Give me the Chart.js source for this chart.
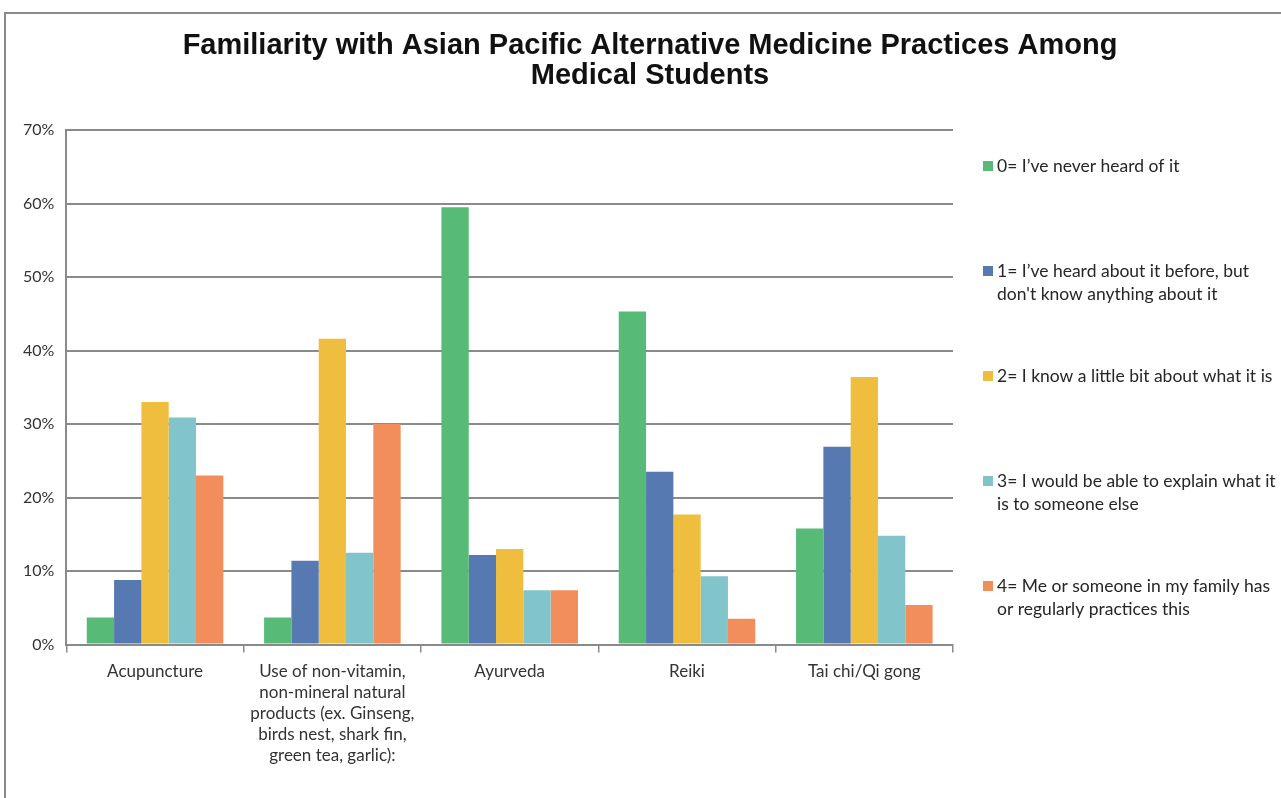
<!DOCTYPE html>
<html>
<head>
<meta charset="utf-8">
<script src="https://cdn.jsdelivr.net/npm/chart.js@4/dist/chart.umd.min.js"></script>
<style>
  html, body { margin: 0; padding: 0; background: #fff; }
  #wrap { position: relative; width: 1281px; height: 798px; overflow: hidden; }
  #frame { position: absolute; left: 4px; top: 12px; width: 1290px; height: 800px;
           border-top: 2px solid #8a8a8a; border-left: 2px solid #8a8a8a; }
  canvas { position: absolute; left: 0; top: 0; }
</style>
</head>
<body>
<div id="wrap">
  <div id="frame"></div>
  <canvas id="chart" width="1281" height="798"></canvas>
</div>
<script>
const categories = [
    'Acupuncture',
    ['Use of non-vitamin,', 'non-mineral natural', 'products (ex. Ginseng,', 'birds nest, shark fin,', 'green tea, garlic):'],
    'Ayurveda',
    'Reiki',
    'Tai chi/Qi gong'
];

const seriesNames = [
    ['0= I\u2019ve never heard of it'],
    ['1= I\u2019ve heard about it before, but', 'don\'t know anything about it'],
    ['2= I know a little bit about what it is'],
    ['3= I would be able to explain what it', 'is to someone else'],
    ['4= Me or someone in my family has', 'or regularly practices this']
];

const titleLines = ['Familiarity with Asian Pacific Alternative Medicine Practices Among', 'Medical Students'];

const neverHeard = [3.7, 3.7, 59.5, 45.3, 15.8];
const heardOf = [8.8, 11.4, 12.2, 23.5, 26.9];
const knowLittle = [33.0, 41.6, 13.0, 17.7, 36.4];
const canExplain = [30.9, 12.5, 7.4, 9.3, 14.8];
const practices = [23.0, 30.0, 7.4, 3.5, 5.4];

const yTicks = [0, 10, 20, 30, 40, 50, 60, 70];

const colors = ['#57bb77', '#5779b1', '#f0be3e', '#81c5ca', '#f18e5c'];
const seriesValues = [neverHeard, heardOf, knowLittle, canExplain, practices];

// title centred on the whole picture, not just the plot
const pageTitle = {
    id: 'pageTitle',
    afterDraw(chart) {
        const ctx = chart.ctx;
        ctx.save();
        ctx.font = 'bold 29px "Liberation Sans", Arial, sans-serif';
        ctx.fillStyle = '#111';
        ctx.textAlign = 'center';
        ctx.textBaseline = 'middle';
        titleLines.forEach(function(line, i) {
            ctx.fillText(line, 650, 46 + i * 30);
        });
        ctx.restore();
    }
};

// legend on the right, drawn by hand since labels wrap to two lines
const sideLegend = {
    id: 'sideLegend',
    afterDraw(chart) {
        const ctx = chart.ctx;
        const area = chart.chartArea;
        const x = area.right + 30;
        ctx.save();
        ctx.font = '17.5px Lato, "Open Sans", sans-serif';
        ctx.textBaseline = 'middle';
        seriesNames.forEach(function(lines, i) {
            const y = area.top + 36 + i * 105;
            ctx.fillStyle = colors[i];
            ctx.fillRect(x, y - 5, 10, 10);
            ctx.fillStyle = '#262626';
            lines.forEach(function(line, j) {
                ctx.fillText(line, x + 14, y + j * 23);
            });
        });
        ctx.restore();
    }
};

const ctx = document.getElementById('chart').getContext('2d');
new Chart(ctx, {
    type: 'bar',
    data: {
        labels: categories,
        datasets: seriesValues.map(function(vals, i) {
            return {
                label: seriesNames[i].join(' '),
                data: vals,
                backgroundColor: colors[i],
                borderWidth: 0
            };
        })
    },
    options: {
        responsive: false,
        animation: false,
        devicePixelRatio: 1,
        categoryPercentage: 0.77,
        barPercentage: 1.0,
        layout: {
            padding: {left: 11, right: 328, top: 130, bottom: 24}
        },
        plugins: {
            legend: {display: false},
            tooltip: {enabled: false},
            title: {display: false}
        },
        scales: {
            x: {
                grid: {display: true, drawOnChartArea: false, drawTicks: true, tickLength: 8, color: '#8a8a8a', lineWidth: 1.5},
                border: {display: true, color: '#8a8a8a', width: 2},
                ticks: {
                    color: '#333',
                    font: {family: 'Lato, "Open Sans", sans-serif', size: 17, lineHeight: 1.24},
                    maxRotation: 0,
                    autoSkip: false,
                    padding: 8
                }
            },
            y: {
                min: 0,
                max: 70,
                afterBuildTicks: function(axis) {
                    axis.ticks = yTicks.map(function(v) { return {value: v}; });
                },
                grid: {color: '#8a8a8a', lineWidth: 2, drawTicks: false},
                border: {display: true, color: '#8a8a8a', width: 2},
                ticks: {
                    color: '#333',
                    font: {family: 'Lato, "Open Sans", sans-serif', size: 16},
                    padding: 12,
                    callback: function(v) { return v + '%'; }
                }
            }
        }
    },
    plugins: [pageTitle, sideLegend]
});
</script>
</body>
</html>
